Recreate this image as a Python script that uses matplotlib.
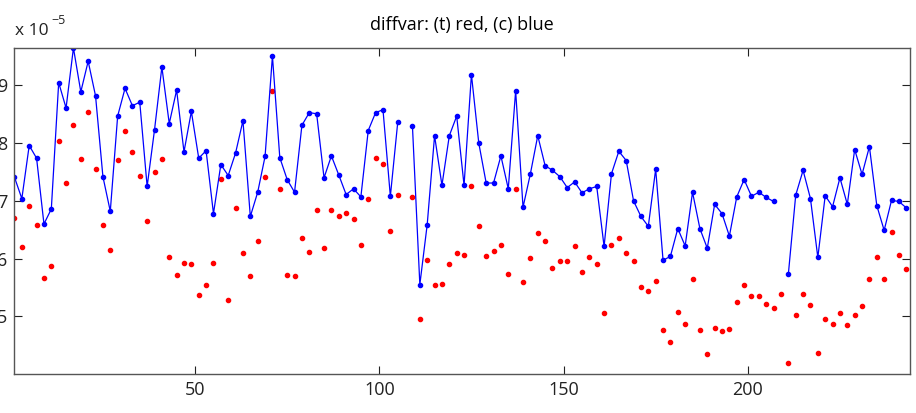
import numpy as np
import matplotlib.pyplot as plt
from matplotlib.ticker import FuncFormatter

plt.rcParams["font.family"] = ["Open Sans", "DejaVu Sans"]

scale = 1e-5

# sample index (every other day)
x = np.arange(1, 244, 2)

# diffvar, control group (blue), in units of 1e-5
c_var = [
    7.41, 7.04, 7.96, 7.74, 6.60, 6.86, 9.05, 8.61, 9.65, 8.89,
    9.42, 8.82, 7.42, 6.82, 8.47, 8.95, 8.65, 8.71, 7.25, 8.23,
    9.32, 8.34, 8.92, 7.85, 8.55, 7.74, 7.87, 6.78, 7.63, 7.44,
    7.83, 8.39, 6.73, 7.15, 7.77, 9.51, 7.75, 7.37, 7.15, 8.31,
    8.53, 8.51, 7.40, 7.78, 7.45, 7.11, 7.21, 7.07, 8.22, 8.53,
    8.58, 7.08, 8.36, np.nan, 8.29, 5.55, 6.59, 8.13, 7.27, 8.13,
    8.47, 7.27, 9.19, 8.00, 7.31, 7.31, 7.78, 7.21, 8.91, 6.89,
    7.47, 8.13, 7.61, 7.53, 7.42, 7.23, 7.33, 7.14, 7.21, 7.25,
    6.21, 7.47, 7.86, 7.70, 7.00, 6.73, 6.56, 7.55, 5.97, 6.04,
    6.52, 6.22, 7.15, 6.52, 6.18, 6.94, 6.78, 6.39, 7.07, 7.37,
    7.08, 7.15, 7.06, 6.99, np.nan, 5.73, 7.10, 7.53, 7.04, 6.02,
    7.09, 6.90, 7.40, 6.94, 7.89, 7.46, 7.94, 6.92, 6.49, 7.01,
    6.99, 6.88,
]

# diffvar, treatment group (red), in units of 1e-5
t_var = [
    6.70, 6.20, 6.92, 6.59, 5.66, 5.87, 8.04, 7.31, 8.32, 7.72,
    8.54, 7.55, 6.59, 6.15, 7.71, 8.21, 7.84, 7.44, 6.66, 7.50,
    7.72, 6.02, 5.71, 5.93, 5.90, 5.37, 5.54, 5.93, 7.38, 5.28,
    6.88, 6.10, 5.70, 6.30, 7.42, 8.90, 7.21, 5.72, 5.70, 6.36,
    6.12, 6.84, 6.18, 6.84, 6.73, 6.79, 6.69, 6.23, 7.04, 7.74,
    7.64, 6.48, 7.11, np.nan, 7.06, 4.96, 5.98, 5.54, 5.56, 5.91,
    6.10, 6.06, 7.25, 6.57, 6.04, 6.13, 6.23, 5.74, 7.20, 5.59,
    6.01, 6.44, 6.30, 5.84, 5.96, 5.96, 6.22, 5.76, 6.03, 5.90,
    5.05, 6.24, 6.36, 6.09, 5.96, 5.51, 5.43, 5.62, 4.76, 4.55,
    5.08, 4.87, 5.65, 4.76, 4.35, 4.80, 4.74, 4.78, 5.25, 5.54,
    5.35, 5.35, 5.21, 5.14, 5.39, 4.19, 5.02, 5.38, 5.19, 4.37,
    4.96, 4.87, 5.06, 4.85, 5.03, 5.18, 5.64, 6.03, 5.65, 6.46,
    6.06, 5.82,
]

c = np.array(c_var) * scale
t = np.array(t_var) * scale

fig = plt.figure(figsize=(9.16, 4.13), dpi=100)
ax = fig.add_axes([0.0158, 0.0944, 0.9776, 0.7894])

ax.plot(x, t, "r.", markersize=6, linestyle="none")
ax.plot(x, c, "b.-", markersize=6, linewidth=0.9)

ax.set_xlim(1, 244)
ax.set_ylim(4.0e-5, 9.65e-5)
ax.set_xticks([50, 100, 150, 200])
ax.set_yticks(np.arange(5, 10) * scale)
ax.yaxis.set_major_formatter(FuncFormatter(lambda v, p: f"{v / scale:.0f}"))

ax.tick_params(direction="in", length=6, top=True, right=True,
               labelsize=13, colors="#222222", pad=5)
for s in ax.spines.values():
    s.set_color("#555555")
    s.set_linewidth(1.0)

ax.set_title("diffvar: (t) red, (c) blue", fontsize=13, pad=13)

# exponent label above the y axis
fig.text(0.016, 0.905, "x 10", fontsize=12.5, color="#222222", va="bottom")
fig.text(0.056, 0.935, "\u22125", fontsize=9, color="#222222", va="bottom")

fig.savefig("out.png", dpi=100)
